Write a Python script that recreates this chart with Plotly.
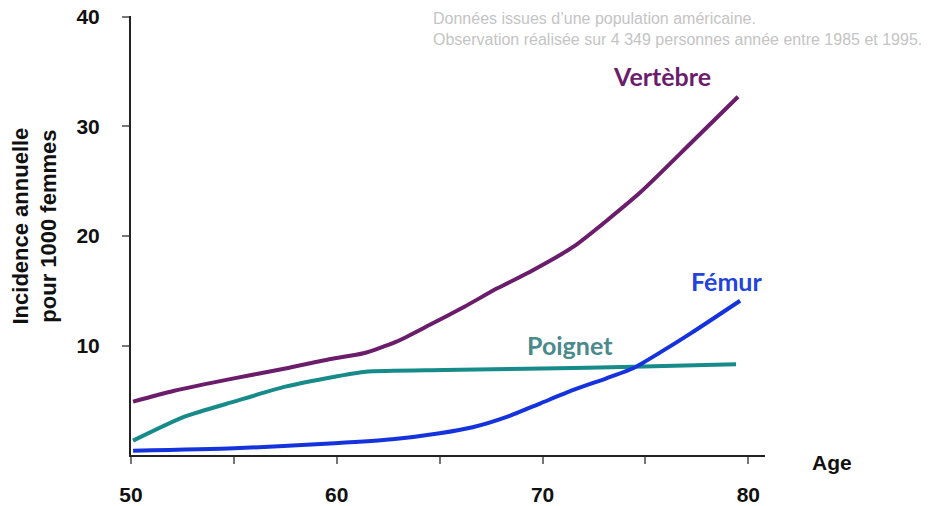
import plotly.graph_objects as go

# ---- data ----
vertebre_age = [50.1, 52.1, 55.0, 57.5, 59.7, 61.3, 62.9, 64.5, 66.2, 67.8, 69.4, 71.5, 74.7, 77.2, 79.5]
vertebre_val = [4.87, 5.87, 7.0, 7.9, 8.77, 9.29, 10.35, 11.87, 13.54, 15.22, 16.74, 19.02, 23.9, 28.47, 32.72]

poignet_age = [50.1, 52.6, 55.0, 57.5, 59.9, 61.4, 65.2, 70.0, 74.4, 79.4]
poignet_val = [1.31, 3.5, 4.87, 6.24, 7.15, 7.61, 7.76, 7.9, 8.06, 8.28]

femur_age = [50.1, 55.0, 59.9, 62.7, 65.0, 66.6, 68.3, 69.9, 71.5, 73.1, 74.4, 75.7, 77.2, 79.6]
femur_val = [0.39, 0.61, 1.07, 1.43, 1.98, 2.53, 3.5, 4.72, 5.94, 7.0, 7.92, 9.35, 11.11, 14.09]

x_tick_vals = [50, 60, 70, 80]
y_tick_vals = [10, 20, 30, 40]

C_VERT = "#6b1d6b"
C_POIG = "#178a8a"
C_FEM = "#1533dd"

fig = go.Figure()
for ages, vals, col in [(vertebre_age, vertebre_val, C_VERT),
                        (poignet_age, poignet_val, C_POIG),
                        (femur_age, femur_val, C_FEM)]:
    fig.add_trace(go.Scatter(x=ages, y=vals, mode="lines",
                             line=dict(color=col, width=4, shape="spline", smoothing=0.6),
                             showlegend=False, hoverinfo="skip"))

tick_font = dict(family="Arial, Liberation Sans, sans-serif", size=21, color="#111")

# page body has an 8px margin: figure is 921x498 placed at (8, 8)
fig.update_layout(
    width=921, height=498,
    margin=dict(l=123, r=164, t=8, b=51),
    paper_bgcolor="white", plot_bgcolor="white",
    xaxis=dict(range=[50, 80.81], showgrid=False, zeroline=False, automargin=False,
               showline=True, linecolor="#222", linewidth=2,
               tickvals=x_tick_vals, ticktext=["<b>%d</b>" % v for v in x_tick_vals],
               ticks="outside", ticklen=7, tickwidth=2, tickcolor="#777",
               tickfont=tick_font, ticklabelstandoff=13, ticklabeloverflow="allow",
               minor=dict(dtick=5, tick0=50, ticks="outside", ticklen=7,
                          tickwidth=2, tickcolor="#777", showgrid=False)),
    yaxis=dict(range=[0, 40.09], showgrid=False, zeroline=False, automargin=False,
               showline=True, linecolor="#222", linewidth=2,
               tickvals=y_tick_vals, ticktext=["<b>%d</b>" % v for v in y_tick_vals],
               ticks="outside", ticklen=7, tickwidth=2, tickcolor="#777",
               tickfont=tick_font, ticklabelstandoff=18, ticklabeloverflow="allow"),
)

def px2paper(px, py):
    return (px - 131) / 634.0, (455 - py) / 439.0

annos = []
# Age
x, y = px2paper(832, 462)
annos.append(dict(text="<b>Age</b>", x=x, y=y, font=tick_font))
# Y title
x, y = px2paper(34.5, 226)
annos.append(dict(text="<b>Incidence annuelle<br>pour 1000 femmes</b>", x=x, y=y,
                  textangle=-90, font=dict(family="Arial, Liberation Sans, sans-serif", size=22, color="#111")))
# note
x, y = px2paper(431, 29)
annos.append(dict(text="Données issues d’une population américaine.<br>Observation réalisée sur 4 349 personnes année entre 1985 et 1995.",
                  x=x, y=y, xanchor="left", align="left",
                  font=dict(family="Arial, Liberation Sans, sans-serif", size=16, color="#c4c4c4")))
# series labels
lab_font = "Lato, Open Sans, sans-serif"
for txt, cx, cy, col in [("Vertèbre", 662, 76, C_VERT),
                         ("Fémur", 726, 281, "#2244dd"),
                         ("Poignet", 569.5, 345, "#4b8a8c")]:
    x, y = px2paper(cx, cy)
    annos.append(dict(text="<b>%s</b>" % txt, x=x, y=y,
                      font=dict(family=lab_font, size=25, color=col)))

for a in annos:
    a.update(xref="paper", yref="paper", showarrow=False)
    a.setdefault("xanchor", "center")
    a.setdefault("yanchor", "middle")
fig.update_layout(annotations=annos)

fig.write_html("out.html")
